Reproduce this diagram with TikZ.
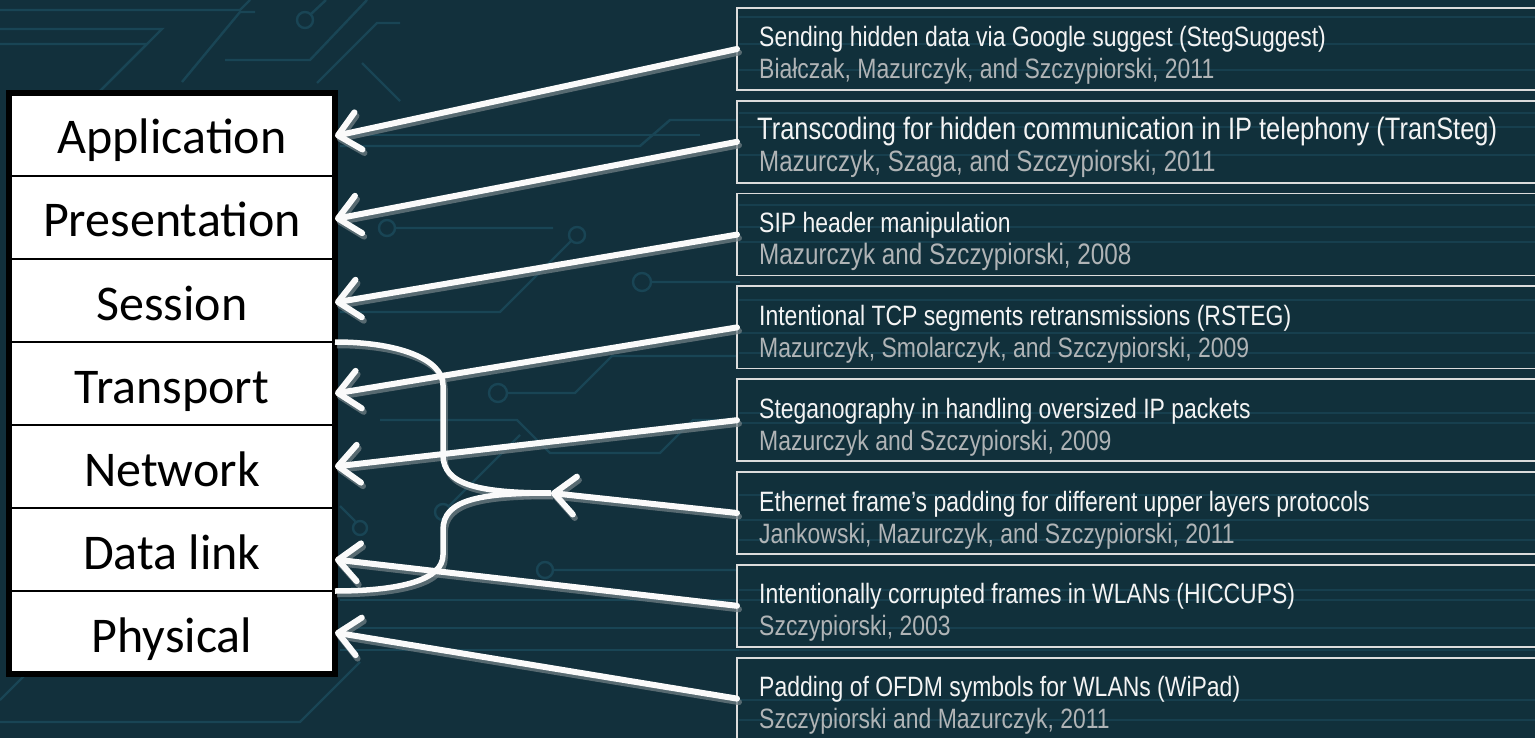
\documentclass[tikz,border=0pt]{standalone}
\usepackage{fontspec}
\setmainfont{Carlito}
\newfontfamily\narrowfont[FakeStretch=0.82]{Liberation Sans}
\usetikzlibrary{arrows.meta}
\definecolor{bg}{HTML}{12303C}
\definecolor{boxbg}{HTML}{11303B}
\definecolor{tracec}{HTML}{194555}
\definecolor{stripec}{HTML}{173F4E}
\definecolor{subc}{HTML}{B0B4B6}
\definecolor{titc}{HTML}{F4F4F4}
\definecolor{framec}{HTML}{DCDCDC}
\definecolor{shadowc}{HTML}{6F7E84}
\definecolor{arrowc}{HTML}{FAFAFA}
\newcommand\connectors[2]{%
  \draw[#2] (join) .. controls (480,493) and (443,485) .. (443,455) -- (443,385)
    .. controls (443,360) and (400,342) .. (tra.north east);
  \draw[#2] (join) .. controls (478,493) and (443,500) .. (443,530) -- (443,555)
    .. controls (443,580) and (400,591) .. (dat.south east);
  \draw[#1] (b1.west) -- ([yshift=-1.5pt]app.east);
  \draw[#1] (b2.west) -- ([yshift=-1.5pt]pre.east);
  \draw[#1] (b3.west) -- ([yshift=-2pt]ses.east);
  \draw[#1] (b4.west) -- ([yshift=-10pt]tra.east);
  \draw[#1] (b5.west) -- (net.east);
  \draw[#1] (b6.west) -- (join);
  \draw[#1] (b7.west) -- ([yshift=-10pt]dat.east);
  \draw[#1] (b8.west) -- (phy.east);}
\begin{document}
\begin{tikzpicture}[x=1pt,y=-1pt,
  trace/.style={draw=tracec, line width=2.4pt},
  stripe/.style={draw=stripec, line width=2.4pt},
  layer/.style={draw=black, line width=2pt, fill=white, minimum width=326pt,
    minimum height=83pt, inner sep=0pt, outer sep=0pt, text height=39pt,
    text depth=0pt, font=\fontsize{50}{60}\selectfont, anchor=north west},
  rbox/.style={draw=framec, line width=1.8pt, fill=boxbg, minimum width=830pt,
    minimum height=82pt, inner sep=0pt, outer sep=0pt, anchor=north west},
  titl/.style={font=\narrowfont\fontsize{28}{33}\selectfont, text=titc,
    inner sep=0pt, anchor=base west},
  subt/.style={font=\narrowfont\fontsize{28}{33}\selectfont, text=subc,
    inner sep=0pt, anchor=base west},
  arrowtip/.style={-{Straight Barb[round,length=21pt,width=38pt]}},
  conn/.style={draw=arrowc, line width=6pt, line cap=round, arrowtip},
  connshadow/.style={draw=shadowc, line width=6pt, line cap=round, arrowtip},
  curvec/.style={draw=arrowc, line width=5.5pt},
  curveshadow/.style={draw=shadowc, line width=5.5pt}]
\useasboundingbox (0,0) rectangle (1535,738);
\clip (0,0) rectangle (1535,738);
\fill[bg] (0,0) rectangle (1535,738);
% background circuit traces
\draw[trace] (0,10) -- (240,10) -- (250,0);
\draw[trace] (0,29) -- (162,29) -- (100,91);
\draw[trace] (0,44) -- (147,44) -- (100,91);
\draw[trace] (182,82) -- (240,12) -- (255,12);
\draw[trace] (225,60) -- (310,60) -- (367,0);
\draw[trace] (305,20) circle (8) (311,14) -- (326,0);
\draw[trace] (317,83) -- (377,23) -- (400,23);
\draw[trace] (362,63) -- (400,101);
\draw[trace] (340,135) -- (700,135);
\draw[trace] (340,146) -- (640,146) -- (670,120) -- (740,120);
\draw[trace] (387,228) circle (8) (395,228) -- (553,228);
\draw[trace] (577,235) circle (8) (571,241) -- (500,312) -- (340,312);
\draw[trace] (642,282) circle (9) (651,282) -- (740,282);
\draw[trace] (498,393) circle (9) (507,393) -- (575,393) -- (612,356) -- (740,356);
\draw[trace] (380,420) -- (517,420) -- (550,453) -- (660,453) -- (693,420) -- (740,420);
\draw[trace] (443,512) circle (8) (449,506) -- (520,435);
\draw[trace] (360,528) circle (7) (355,521) -- (340,506);
\draw[trace] (545,570) circle (8) (553,570) -- (740,570);
\draw[trace] (340,600) -- (740,600);
\draw[trace] (340,628) -- (740,628);
\draw[trace] (340,650) -- (740,650);
\draw[trace] (360,662) -- (300,722) -- (0,722);
\draw[trace] (0,700) -- (50,650);
% right boxes
\node[rbox] (b1) at (737,8) {};
\node[rbox] (b2) at (737,100.8) {};
\node[rbox] (b3) at (737,193.6) {};
\node[rbox] (b4) at (737,286.4) {};
\node[rbox] (b5) at (737,379.2) {};
\node[rbox] (b6) at (737,472) {};
\node[rbox] (b7) at (737,564.8) {};
\node[rbox] (b8) at (737,657.6) {};
\foreach \yy in {17,44,70,113,127,155,205,227,242,300,333,353,413,423,495,520,540,590,600,628,650,700,720}
  \draw[stripe] (739,\yy) -- (1535,\yy);
\foreach \b in {b1,b2,b3,b4,b5,b6,b7,b8}
  \draw[draw=framec, line width=1.8pt] (\b.south east) -| (\b.north west) -- (\b.north east) (\b.south west) -- (\b.south east);
% texts
\node[titl] (t1) at (759,47) {Sending hidden data via Google suggest (StegSuggest)};
\node[subt] (s1) at (759,79) {Białczak, Mazurczyk, and Szczypiorski, 2011};
\node[titl, font=\narrowfont\fontsize{31}{33}\selectfont] (t2) at (757,140) {Transcoding for hidden communication in IP telephony (TranSteg)};
\node[subt, font=\narrowfont\fontsize{29.4}{33}\selectfont] (s2) at (759,172) {Mazurczyk, Szaga, and Szczypiorski, 2011};
\node[titl] (t3) at (759,232.6) {SIP header manipulation};
\node[subt, font=\narrowfont\fontsize{29.6}{33}\selectfont] (s3) at (759,265) {Mazurczyk and Szczypiorski, 2008};
\node[titl] (t4) at (759,325.4) {Intentional TCP segments retransmissions (RSTEG)};
\node[subt] (s4) at (759,357.4) {Mazurczyk, Smolarczyk, and Szczypiorski, 2009};
\node[titl] (t5) at (759,418.2) {Steganography in handling oversized IP packets};
\node[subt] (s5) at (759,450.2) {Mazurczyk and Szczypiorski, 2009};
\node[titl] (t6) at (759,511) {Ethernet frame’s padding for different upper layers protocols};
\node[subt] (s6) at (759,543) {Jankowski, Mazurczyk, and Szczypiorski, 2011};
\node[titl] (t7) at (759,603.8) {Intentionally corrupted frames in WLANs (HICCUPS)};
\node[subt] (s7) at (759,635.8) {Szczypiorski, 2003};
\node[titl] (t8) at (759,696.6) {Padding of OFDM symbols for WLANs (WiPad)};
\node[subt] (s8) at (759,728.6) {Szczypiorski and Mazurczyk, 2011};
% OSI layers
\node[layer] (app) at (9,93) {Application};
\node[layer] (pre) at (9,176) {Presentation};
\node[layer] (ses) at (9,259) {Session};
\node[layer] (tra) at (9,342) {Transport};
\node[layer] (net) at (9,425) {Network};
\node[layer] (dat) at (9,508) {Data link};
\node[layer] (phy) at (9,591) {Physical};
\draw[line width=6pt] (app.north west) rectangle (phy.south east);
% connectors: shadow pass, then white pass
\coordinate (join) at (551,493);
\begin{scope}[transform canvas={shift={(2pt,-3.5pt)}}, opacity=0.75]
  \connectors{connshadow}{curveshadow}
\end{scope}
\connectors{conn}{curvec}
\end{tikzpicture}
\end{document}
